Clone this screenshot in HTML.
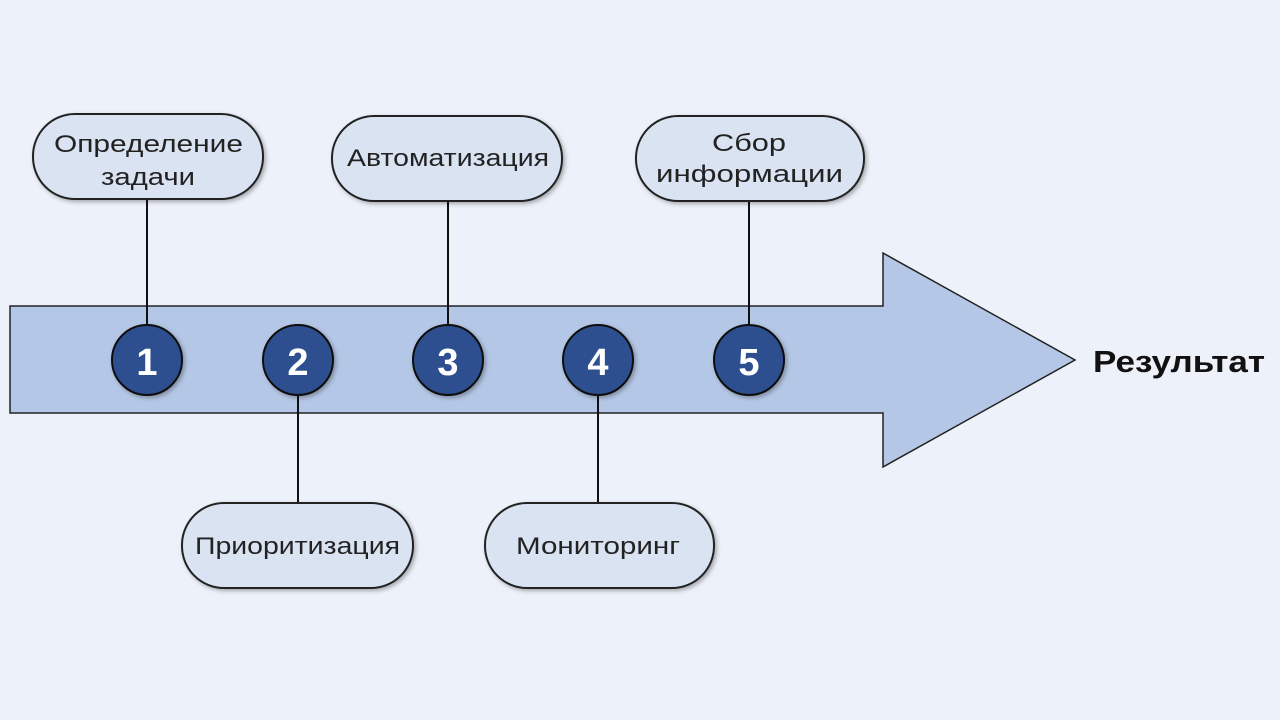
<!DOCTYPE html>
<html><head><meta charset="utf-8"><style>
html,body{margin:0;padding:0;background:#edf1f9;}
svg{display:block;}
text{font-family:"Liberation Sans","DejaVu Sans",sans-serif;}
</style></head><body>
<svg width="1280" height="720" viewBox="0 0 1280 720">
<rect width="1280" height="720" fill="#edf1f9"/>
<defs><filter id="sh" x="-20%" y="-20%" width="140%" height="140%"><feDropShadow dx="2" dy="2" stdDeviation="2" flood-color="#000" flood-opacity="0.3"/></filter></defs>
<polygon points="10,306 883,306 883,253 1075,360 883,467 883,413 10,413" fill="#b4c7e6" stroke="#222" stroke-width="1.5"/>
<g stroke="#111" stroke-width="2">
<line x1="147" y1="199" x2="147" y2="326"/>
<line x1="448" y1="201" x2="448" y2="326"/>
<line x1="749" y1="201" x2="749" y2="326"/>
<line x1="298" y1="394" x2="298" y2="503"/>
<line x1="598" y1="394" x2="598" y2="503"/>
</g>
<g fill="#dae3f2" stroke="#222" stroke-width="2" filter="url(#sh)">
<rect x="33" y="114" width="230" height="85" rx="42"/>
<rect x="332" y="116" width="230" height="85" rx="42"/>
<rect x="636" y="116" width="228" height="85" rx="42"/>
<rect x="182" y="503" width="231" height="85" rx="42"/>
<rect x="485" y="503" width="229" height="85" rx="42"/>
</g>
<g font-size="24" fill="#222">
<text x="54" y="152" textLength="189" lengthAdjust="spacingAndGlyphs">Определение</text>
<text x="101" y="185" textLength="94" lengthAdjust="spacingAndGlyphs">задачи</text>
<text x="347" y="166" textLength="202" lengthAdjust="spacingAndGlyphs">Автоматизация</text>
<text x="712" y="151" textLength="74" lengthAdjust="spacingAndGlyphs">Сбор</text>
<text x="656" y="182" textLength="187" lengthAdjust="spacingAndGlyphs">информации</text>
<text x="195" y="554" textLength="205" lengthAdjust="spacingAndGlyphs">Приоритизация</text>
<text x="516" y="554" textLength="164" lengthAdjust="spacingAndGlyphs">Мониторинг</text>
</g>
<g fill="#2f4f8f" stroke="#111" stroke-width="2" filter="url(#sh)">
<circle cx="147" cy="360" r="35"/>
<circle cx="298" cy="360" r="35"/>
<circle cx="448" cy="360" r="35"/>
<circle cx="598" cy="360" r="35"/>
<circle cx="749" cy="360" r="35"/>
</g>
<g font-size="38" font-weight="bold" fill="#fff" text-anchor="middle">
<text x="147" y="375">1</text>
<text x="298" y="375">2</text>
<text x="448" y="375">3</text>
<text x="598" y="375">4</text>
<text x="749" y="375">5</text>
</g>
<text x="1093" y="372" font-size="31" font-weight="bold" fill="#111" textLength="172" lengthAdjust="spacingAndGlyphs">Результат</text>
</svg>
</body></html>
